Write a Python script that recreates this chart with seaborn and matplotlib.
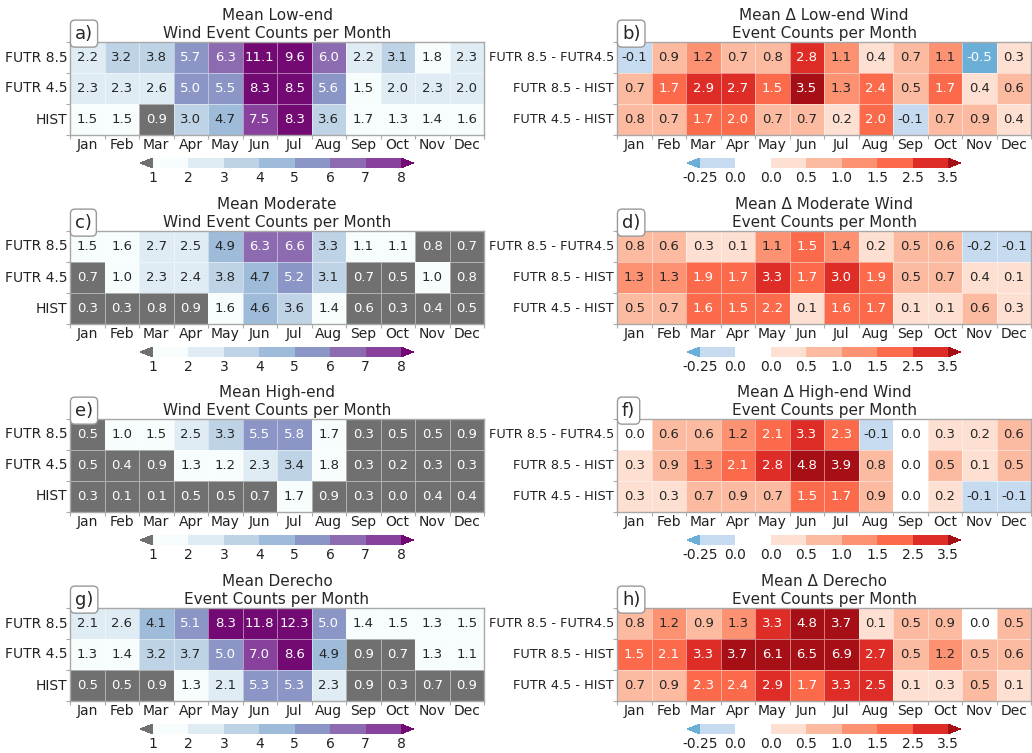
import numpy as np
import pandas as pd
import matplotlib
matplotlib.use("Agg")
import matplotlib.pyplot as plt
from matplotlib.colors import ListedColormap, BoundaryNorm
import seaborn as sns

sns.set_theme(style="white")
plt.rcParams['font.family'] = ['DejaVu Sans']

months = ["Jan", "Feb", "Mar", "Apr", "May", "Jun", "Jul", "Aug", "Sep", "Oct", "Nov", "Dec"]
rows_abs = ["FUTR 8.5", "FUTR 4.5", "HIST"]
rows_diff = ["FUTR 8.5 - FUTR4.5", "FUTR 8.5 - HIST", "FUTR 4.5 - HIST"]

# mean monthly counts
low_end = [[2.2, 3.2, 3.8, 5.7, 6.3, 11.1, 9.6, 6.0, 2.2, 3.1, 1.8, 2.3],
           [2.3, 2.3, 2.6, 5.0, 5.5, 8.3, 8.5, 5.6, 1.5, 2.0, 2.3, 2.0],
           [1.5, 1.5, 0.9, 3.0, 4.7, 7.5, 8.3, 3.6, 1.7, 1.3, 1.4, 1.6]]
moderate = [[1.5, 1.6, 2.7, 2.5, 4.9, 6.3, 6.6, 3.3, 1.1, 1.1, 0.8, 0.7],
            [0.7, 1.0, 2.3, 2.4, 3.8, 4.7, 5.2, 3.1, 0.7, 0.5, 1.0, 0.8],
            [0.3, 0.3, 0.8, 0.9, 1.6, 4.6, 3.6, 1.4, 0.6, 0.3, 0.4, 0.5]]
high_end = [[0.5, 1.0, 1.5, 2.5, 3.3, 5.5, 5.8, 1.7, 0.3, 0.5, 0.5, 0.9],
            [0.5, 0.4, 0.9, 1.3, 1.2, 2.3, 3.4, 1.8, 0.3, 0.2, 0.3, 0.3],
            [0.3, 0.1, 0.1, 0.5, 0.5, 0.7, 1.7, 0.9, 0.3, 0.0, 0.4, 0.4]]
derecho = [[2.1, 2.6, 4.1, 5.1, 8.3, 11.8, 12.3, 5.0, 1.4, 1.5, 1.3, 1.5],
           [1.3, 1.4, 3.2, 3.7, 5.0, 7.0, 8.6, 4.9, 0.9, 0.7, 1.3, 1.1],
           [0.5, 0.5, 0.9, 1.3, 2.1, 5.3, 5.3, 2.3, 0.9, 0.3, 0.7, 0.9]]

# differences between scenarios
d_low_end = [[-0.1, 0.9, 1.2, 0.7, 0.8, 2.8, 1.1, 0.4, 0.7, 1.1, -0.5, 0.3],
             [0.7, 1.7, 2.9, 2.7, 1.5, 3.5, 1.3, 2.4, 0.5, 1.7, 0.4, 0.6],
             [0.8, 0.7, 1.7, 2.0, 0.7, 0.7, 0.2, 2.0, -0.1, 0.7, 0.9, 0.4]]
d_moderate = [[0.8, 0.6, 0.3, 0.1, 1.1, 1.5, 1.4, 0.2, 0.5, 0.6, -0.2, -0.1],
              [1.3, 1.3, 1.9, 1.7, 3.3, 1.7, 3.0, 1.9, 0.5, 0.7, 0.4, 0.1],
              [0.5, 0.7, 1.6, 1.5, 2.2, 0.1, 1.6, 1.7, 0.1, 0.1, 0.6, 0.3]]
d_high_end = [[0.0, 0.6, 0.6, 1.2, 2.1, 3.3, 2.3, -0.1, 0.0, 0.3, 0.2, 0.6],
              [0.3, 0.9, 1.3, 2.1, 2.8, 4.8, 3.9, 0.8, 0.0, 0.5, 0.1, 0.5],
              [0.3, 0.3, 0.7, 0.9, 0.7, 1.5, 1.7, 0.9, 0.0, 0.2, -0.1, -0.1]]
d_derecho = [[0.8, 1.2, 0.9, 1.3, 3.3, 4.8, 3.7, 0.1, 0.5, 0.9, 0.0, 0.5],
             [1.5, 2.1, 3.3, 3.7, 6.1, 6.5, 6.9, 2.7, 0.5, 1.2, 0.5, 0.6],
             [0.7, 0.9, 2.3, 2.4, 2.9, 1.7, 3.3, 2.5, 0.1, 0.3, 0.5, 0.1]]

abs_titles = ["Mean Low-end\nWind Event Counts per Month",
              "Mean Moderate\nWind Event Counts per Month",
              "Mean High-end\nWind Event Counts per Month",
              "Mean Derecho\nEvent Counts per Month"]
diff_titles = ["Mean Δ Low-end Wind\nEvent Counts per Month",
               "Mean Δ Moderate Wind\nEvent Counts per Month",
               "Mean Δ High-end Wind\nEvent Counts per Month",
               "Mean Δ Derecho\nEvent Counts per Month"]

# discrete colour scales
count_bounds = [1, 2, 3, 4, 5, 6, 7, 8]
count_colors = ['#f7fcfd', '#e0ecf4', '#bfd3e6', '#9ebcda', '#8c96c6', '#8c6bb1', '#88419d']
cmap_count = ListedColormap(count_colors)
cmap_count.set_under('#707070')
cmap_count.set_over('#730a73')
norm_count = BoundaryNorm(count_bounds, len(count_colors))

# the zero bin is a white gap of its own
diff_bounds = [-0.25, -1e-6, 1e-6, 0.5, 1.0, 1.5, 2.5, 3.5]
diff_ticklabels = ['-0.25', '0.0', '0.0', '0.5', '1.0', '1.5', '2.5', '3.5']
diff_colors = ['#c6dbef', '#ffffff', '#fee0d2', '#fcbba1', '#fc9272', '#fb6a4a', '#de2d26']
cmap_diff = ListedColormap(diff_colors)
cmap_diff.set_under('#6baed6')
cmap_diff.set_over('#a50f15')
norm_diff = BoundaryNorm(diff_bounds, len(diff_colors))

W, H = 1032, 753
fig = plt.figure(figsize=(W / 100, H / 100), dpi=100)

row_tops = [42, 231, 419, 608]
hm_h = 93
left_x, right_x, hm_w = 70, 617, 414
cb_w = 273


def draw_panel(x_px, top_px, values, rows, cmap, norm, title, letter, bounds, ticklabels, ylab_size):
    ax = fig.add_axes([x_px / W, 1 - (top_px + hm_h) / H, hm_w / W, hm_h / H])
    df = pd.DataFrame(values, index=rows, columns=months)
    sns.heatmap(df, ax=ax, cmap=cmap, norm=norm, annot=True, fmt=".1f",
                annot_kws={"fontsize": 9.5}, cbar=False,
                linewidths=0.4, linecolor=(1, 1, 1, 0.45))
    for s in ax.spines.values():
        s.set_visible(True)
        s.set_color('#a8a8a8')
        s.set_linewidth(1)
    ax.set_xticklabels(months, rotation=0, fontsize=10, color='#222222')
    ax.set_yticklabels(rows, rotation=0, fontsize=ylab_size, color='#222222')
    ax.set_xlabel("")
    ax.set_ylabel("")
    ax.set_xticks(np.arange(13), minor=True)
    ax.set_yticks(np.arange(4), minor=True)
    ax.tick_params(which='major', length=0, pad=2)
    ax.tick_params(which='minor', bottom=True, left=True, length=3, width=0.8, color='#aaaaaa')
    ax.set_title(title, fontsize=11, pad=3)
    ax.text(0.012, 1.09, letter, transform=ax.transAxes, fontsize=13, ha='left', va='center',
            zorder=10, clip_on=False,
            bbox=dict(boxstyle='round,pad=0.25', fc='white', ec='#999999', lw=1))

    cx = x_px + hm_w / 2 - cb_w / 2
    cax = fig.add_axes([cx / W, 1 - (top_px + hm_h + 33) / H, cb_w / W, 10 / H])
    cb = fig.colorbar(ax.collections[0], cax=cax, orientation='horizontal',
                      extend='both', spacing='uniform')
    cb.set_ticks(bounds, labels=ticklabels)
    cb.outline.set_visible(False)
    cax.tick_params(length=0, labelsize=10, pad=2, colors='#222222')
    return ax


abs_data = [low_end, moderate, high_end, derecho]
diff_data = [d_low_end, d_moderate, d_high_end, d_derecho]
letters = "abcdefgh"

for i in range(4):
    draw_panel(left_x, row_tops[i], abs_data[i], rows_abs, cmap_count, norm_count,
               abs_titles[i], letters[2 * i] + ")", count_bounds,
               [str(b) for b in count_bounds], 10)
    draw_panel(right_x, row_tops[i], diff_data[i], rows_diff, cmap_diff, norm_diff,
               diff_titles[i], letters[2 * i + 1] + ")", diff_bounds, diff_ticklabels, 9.3)

fig.savefig("out.png", dpi=100)
